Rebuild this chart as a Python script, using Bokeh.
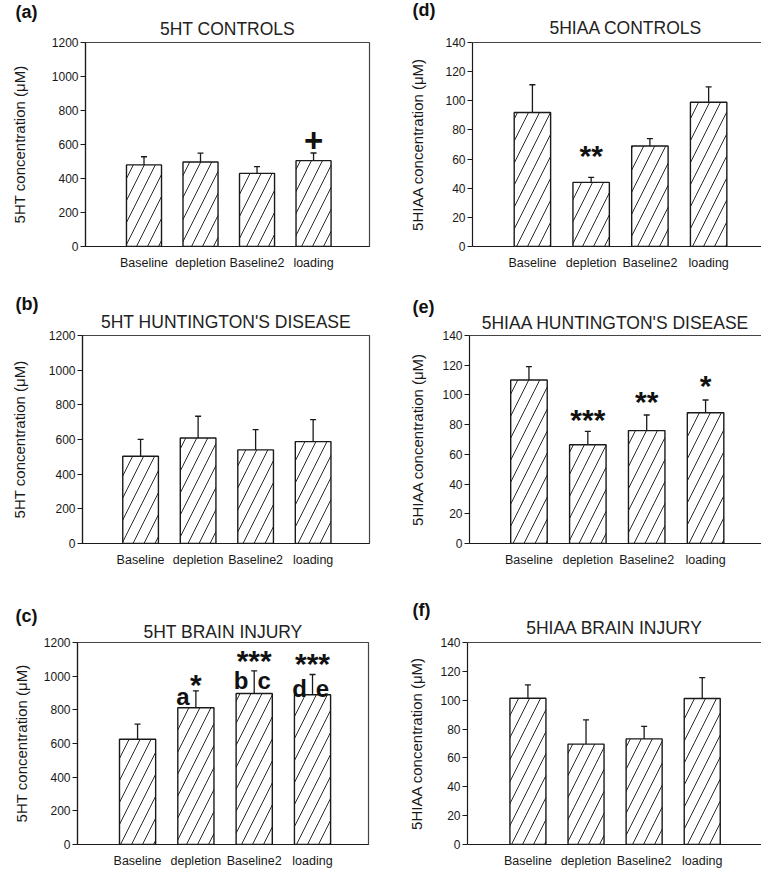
from bokeh.plotting import figure
from bokeh.models import (ColumnDataSource, Range1d, FixedTicker, Whisker, TeeHead,
                          Title, LinearAxis)
from bokeh.layouts import column, row
from bokeh.embed import file_html
from bokeh.resources import INLINE
from bokeh.core.properties import value

# ---------------- data ----------------
conditions = ["Baseline", "depletion", "Baseline2", "loading"]

ht_controls_mean = [480, 497, 430, 505]
ht_controls_sem = [48, 52, 40, 45]
ht_hd_mean = [503, 609, 540, 588]
ht_hd_sem = [98, 125, 117, 127]
ht_bi_mean = [625, 812, 897, 890]
ht_bi_sem = [90, 101, 135, 120]

hiaa_controls_mean = [92, 44, 69, 99]
hiaa_controls_sem = [19, 3.5, 5, 10.5]
hiaa_hd_mean = [110, 66.5, 76, 88]
hiaa_hd_sem = [9, 9, 10.5, 8.6]
hiaa_bi_mean = [101.4, 69.6, 73.2, 101.2]
hiaa_bi_sem = [9.2, 16.8, 8.7, 14.5]

ht_ticks = [0, 200, 400, 600, 800, 1000, 1200]
hiaa_ticks = [0, 20, 40, 60, 80, 100, 120, 140]

sig_a = ["", "", "", "+"]
sig_d = ["", "**", "", ""]
sig_e = ["", "***", "**", "*"]
sig_c = ["", "*", "***", "***"]
letters_c_left = ["", "a", "b", "d"]
letters_c_right = ["", "", "c", "e"]

FONT = "Liberation Sans"
INK = "#1a1a1a"


def panel(letter, title, ylabel, means, sems, ticks, W, H, mb, xr, lab_standoff,
          title_off, title_so, letter_off, letter_so, right_col, title_align="center"):
    ml, mr, mt, mbot = mb
    p = figure(width=W, height=H, x_range=Range1d(*xr), y_range=Range1d(ticks[0], ticks[-1]),
               output_backend="svg", toolbar_location=None,
               min_border_left=ml, min_border_right=mr, min_border_top=mt,
               min_border_bottom=mbot)
    p.grid.visible = False
    p.background_fill_color = "white"
    p.border_fill_color = "white"

    xa = p.below[0]
    xa.ticker = FixedTicker(ticks=[0, 1, 2, 3])
    xa.major_label_overrides = {i: c for i, c in enumerate(conditions)}
    xa.major_tick_line_color = None
    xa.minor_tick_line_color = None
    xa.axis_line_color = INK
    xa.axis_line_width = 1.2
    xa.major_label_text_font = FONT
    xa.major_label_text_font_size = "12.5px"
    xa.major_label_text_color = "#181818"
    xa.major_label_standoff = 3

    ya = p.left[0]
    ya.ticker = FixedTicker(ticks=ticks)
    ya.minor_tick_line_color = None
    ya.major_tick_out = 5
    ya.major_tick_in = 0
    ya.major_tick_line_color = INK
    ya.axis_line_color = INK
    ya.axis_line_width = 1.2
    ya.major_label_text_font = FONT
    ya.major_label_text_font_size = "12px"
    ya.major_label_text_color = "#181818"
    ya.major_label_standoff = 2
    ya.axis_label = ylabel
    ya.axis_label_text_font = FONT
    ya.axis_label_text_font_size = "15px"
    ya.axis_label_text_font_style = "normal"
    ya.axis_label_text_color = "#181818"
    ya.axis_label_standoff = lab_standoff

    if right_col:
        p.outline_line_color = None
        top = LinearAxis(ticker=FixedTicker(ticks=[]), major_tick_out=0, major_tick_in=0,
                         minor_tick_out=0, minor_tick_in=0, major_label_standoff=0,
                         major_label_text_font_size="0px", axis_line_color="#444",
                         axis_line_width=1.2)
        p.add_layout(top, "above")
    else:
        p.outline_line_color = "#444"
        p.outline_line_width = 1.2

    src = ColumnDataSource(dict(x=[0, 1, 2, 3], mean=means,
                                upper=[m + s for m, s in zip(means, sems)]))
    p.vbar(x="x", top="mean", bottom=0, width=0.62, source=src,
           fill_color="white", line_color=INK, line_width=1.4,
           hatch_pattern="/", hatch_scale=22, hatch_weight=1.0, hatch_color="#2a2a2a")
    p.add_layout(Whisker(source=src, base="x", upper="upper", lower="mean",
                         line_color=INK, line_width=1.3,
                         upper_head=TeeHead(size=6, line_color=INK, line_width=1.3),
                         lower_head=None))

    # main title (inner row)
    p.add_layout(Title(text=title, align=title_align, offset=title_off, standoff=title_so,
                       text_font=FONT, text_font_size="17.5px", text_font_style="normal",
                       text_color="#222"), "above")
    # panel letter (outer row, pulled down onto the title line)
    p.title.text = f"({letter})"
    p.title.align = "left"
    p.title.offset = letter_off
    p.title.standoff = letter_so
    p.title.text_font = FONT
    p.title.text_font_size = "18px"
    p.title.text_font_style = "bold"
    p.title.text_color = "#111"
    return p, src


# row 1
pa, sa = panel("a", "5HT CONTROLS", "5HT concentration (μM)", ht_controls_mean, ht_controls_sem,
               ht_ticks, 380, 290, (85, 11, 42, 44), (-1.035, 3.99), 21,
               0, 6.8, -70, -17, False)
pd_, sd = panel("d", "5HIAA CONTROLS", "5HIAA concentration (μM)", hiaa_controls_mean,
                hiaa_controls_sem, hiaa_ticks, 381, 290, (92, 0, 42, 41), (-1.02, 3.90), 16,
                77, 9.1, -60, -17.5, True, title_align="left")
# row 2
pb, sb = panel("b", "5HT HUNTINGTON'S DISEASE", "5HT concentration (μM)", ht_hd_mean, ht_hd_sem,
               ht_ticks, 380, 298, (82, 11, 45, 45), (-1.01, 3.98), 18,
               0, 6.5, -67, -15.5, False)
pe, se = panel("e", "5HIAA HUNTINGTON'S DISEASE", "5HIAA concentration (μM)", hiaa_hd_mean,
               hiaa_hd_sem, hiaa_ticks, 381, 298, (89, 0, 43, 43), (-1.01, 3.95), 13,
               1, 5.8, -57, -18.5, True)
# row 3
pc, sc = panel("c", "5HT BRAIN INJURY", "5HT concentration (μM)", ht_bi_mean, ht_bi_sem,
               ht_ticks, 380, 282, (77, 12, 54, 18), (-1.03, 3.96), 11,
               1.5, 1, -62, -12.8, False)
pf, sf = panel("f", "5HIAA BRAIN INJURY", "5HIAA concentration (μM)", hiaa_bi_mean, hiaa_bi_sem,
               hiaa_ticks, 381, 282, (87, 0, 54, 20), (-1.04, 4.02), 12,
               0, 9.2, -55, -17.5, True)


def marks(p, src, labels, heights, size="30px", dx=0, center=4.5):
    # heights: pixel distance of the mark's centre above the error-bar top
    s = ColumnDataSource(dict(x=src.data["x"], y=src.data["upper"], t=labels,
                              dy=[-(h - center) for h in heights]))
    p.text(x="x", y="y", text="t", source=s, text_font=value(FONT), text_font_style="bold",
           text_font_size=size, text_align="center", text_baseline="alphabetic",
           text_color="#111", x_offset=dx, y_offset="dy")


marks(pa, sa, sig_a, [0, 0, 0, 13.4], size="33px", center=1.2)
marks(pd_, sd, sig_d, [0, 26, 0, 0])
marks(pe, se, sig_e, [0, 16.5, 17.5, 18.5])
marks(pc, sc, sig_c, [0, 11.2, 15.1, 15])
# letters: heights negative = baseline below the error-bar top
marks(pc, sc, letters_c_left, [0, -11.4, -15.6, -19.3], size="24px", dx=-13, center=-5.5)
marks(pc, sc, letters_c_right, [0, 0, -15.6, -19.3], size="24px", dx=10, center=-5.5)

layout = column(row(pa, pd_), row(pb, pe), row(pc, pf))

open("out.html", "w").write(file_html(layout, INLINE))
